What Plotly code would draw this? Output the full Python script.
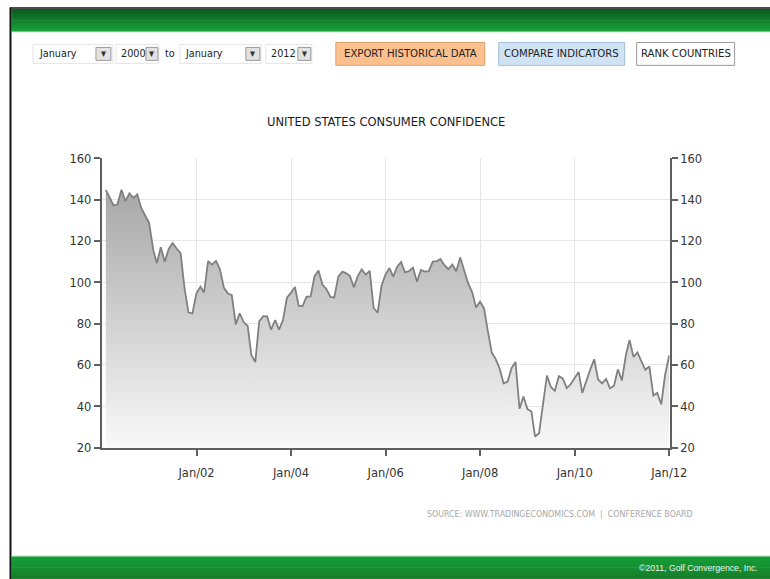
import plotly.graph_objects as go
import pandas as pd

# figure size in page pixels (larger than the window so every edge is covered)
WF, HF = 800, 620
# observed mapping from page pixels to picture pixels
S, OX, OY = 0.978, 0.0, 6.5

# ---------------- data ----------------
start_month = "2000-01-31"
confidence = [
    # 2000
    144.7, 140.8, 137.1, 137.7, 144.7, 139.2, 143.0, 140.8, 142.5, 135.8, 132.6, 128.6,
    # 2001
    115.7, 109.2, 116.9, 109.9, 116.1, 118.9, 116.3, 114.0, 97.0, 85.3, 84.9, 94.6,
    # 2002
    97.8, 95.0, 110.2, 108.5, 110.3, 106.3, 97.4, 94.5, 93.7, 79.6, 84.9, 80.7,
    # 2003
    78.8, 64.8, 61.4, 81.0, 83.6, 83.5, 77.0, 81.7, 77.0, 81.7, 92.5, 94.8,
    # 2004
    97.7, 88.5, 88.5, 93.0, 93.1, 102.8, 105.7, 98.7, 96.7, 92.9, 92.6, 102.7,
    # 2005
    105.1, 104.4, 103.0, 97.5, 103.1, 106.2, 103.6, 105.5, 87.5, 85.2, 98.3, 103.8,
    # 2006
    106.8, 102.7, 107.5, 109.8, 104.7, 105.4, 107.0, 100.2, 105.9, 105.1, 105.3, 110.0,
    # 2007
    110.2, 111.2, 108.2, 106.3, 108.5, 105.3, 111.9, 105.6, 99.5, 95.2, 87.8, 90.6,
    # 2008
    87.3, 76.4, 65.9, 62.8, 58.1, 51.0, 51.9, 58.5, 61.4, 38.8, 44.7, 38.6,
    # 2009
    37.4, 25.3, 26.9, 40.8, 54.8, 49.3, 47.4, 54.5, 53.4, 48.7, 50.6, 53.6,
    # 2010
    56.5, 46.4, 52.3, 57.7, 62.7, 52.9, 51.0, 53.2, 48.6, 49.9, 57.8, 52.5,
    # 2011
    64.8, 72.0, 63.8, 66.0, 61.7, 57.6, 59.2, 45.2, 46.4, 40.9, 55.2, 64.5,
]
dates = pd.date_range(start_month, periods=len(confidence), freq="ME")

x_tick_dates = ["2002-01-01", "2004-01-01", "2006-01-01", "2008-01-01", "2010-01-01", "2012-01-01"]
x_tick_labels = ["Jan/02", "Jan/04", "Jan/06", "Jan/08", "Jan/10", "Jan/12"]
y_ticks = [20, 40, 60, 80, 100, 120, 140, 160]

title_text = "UNITED STATES CONSUMER CONFIDENCE"
source_text = "SOURCE: WWW.TRADINGECONOMICS.COM  |  CONFERENCE BOARD"
footer_text = "©2011, Golf Convergence, Inc."

FONT = "Liberation Sans Narrow, DejaVu Sans Condensed, Arial Narrow, sans-serif"
FS = 1 / S  # font scale


def px(x):
    return ((x - OX) / S) / WF


def py(y):
    return 1 - ((y - OY) / S) / HF


# ---------------- figure ----------------
fig = go.Figure()

fig.add_trace(go.Scatter(
    x=dates, y=confidence, mode="lines",
    line=dict(color="#808080", width=1.8),
    fill="tozeroy",
    fillgradient=dict(type="vertical", start=20, stop=150,
                      colorscale=[[0, "#fbfbfb"], [1, "#a4a4a4"]]),
    hoverinfo="x+y", showlegend=False,
))
# carrier trace for the right-hand axis
fig.add_trace(go.Scatter(
    x=dates, y=confidence, mode="lines", yaxis="y2",
    line=dict(color="rgba(0,0,0,0)", width=0),
    hoverinfo="skip", showlegend=False,
))

plot_l, plot_r, plot_t, plot_b = 102, 670, 157, 447

axis_common = dict(
    showline=True, linecolor="#5f5f5f", linewidth=2,
    ticks="outside", ticklen=6, tickwidth=2, tickcolor="#5f5f5f",
    tickfont=dict(family=FONT, size=12.5 * FS, color="#333333"),
)

fig.update_layout(
    width=WF, height=HF,
    margin=dict(l=0, r=0, t=0, b=0),
    paper_bgcolor="white", plot_bgcolor="white",
    showlegend=False,
    xaxis=dict(
        domain=[px(plot_l), px(plot_r)],
        type="date",
        range=["2000-01-01", "2012-01-04"],
        tickvals=x_tick_dates, ticktext=x_tick_labels,
        showgrid=True, gridcolor="#e6e6e6", gridwidth=1,
        zeroline=False, ticklabelstandoff=6,
        **axis_common,
    ),
    yaxis=dict(
        domain=[py(plot_b), py(plot_t)],
        range=[20, 160], tickvals=y_ticks,
        showgrid=True, gridcolor="#e6e6e6", gridwidth=1,
        zeroline=False, side="left",
        **axis_common,
    ),
    yaxis2=dict(
        overlaying="y", side="right",
        range=[20, 160], tickvals=y_ticks,
        showgrid=False, zeroline=False,
        **axis_common,
    ),
)

shapes = []
annotations = []

# black frame (left + top)
shapes.append(dict(type="line", xref="paper", yref="paper",
                   x0=px(10.5), x1=px(10.5), y0=py(6), y1=py(640),
                   line=dict(color="#111111", width=2)))
shapes.append(dict(type="line", xref="paper", yref="paper",
                   x0=px(10), x1=px(800), y0=py(6.5), y1=py(6.5),
                   line=dict(color="#111111", width=1.5)))


def green_bar(y_top, y_bot, c_top, c_bot, steps=12):
    r1, g1, b1 = c_top
    r2, g2, b2 = c_bot
    h = (y_bot - y_top) / steps
    for i in range(steps):
        t = i / (steps - 1)
        col = "rgb(%d,%d,%d)" % (r1 + (r2 - r1) * t, g1 + (g2 - g1) * t, b1 + (b2 - b1) * t)
        shapes.append(dict(type="rect", xref="paper", yref="paper",
                           x0=px(11.5), x1=px(800),
                           y0=py(y_top + i * h), y1=py(y_top + (i + 1) * h + 0.6),
                           line=dict(width=0), fillcolor=col, layer="below"))


green_bar(7.5, 30, (14, 92, 30), (24, 160, 58))
shapes.append(dict(type="line", xref="paper", yref="paper",
                   x0=px(11.5), x1=px(800), y0=py(30.5), y1=py(30.5),
                   line=dict(color="#bfe6c6", width=1)))
green_bar(556, 600, (22, 156, 56), (24, 100, 28), steps=20)
shapes.append(dict(type="line", xref="paper", yref="paper",
                   x0=px(11.5), x1=px(800), y0=py(555.5), y1=py(555.5),
                   line=dict(color="#cfe9d3", width=1)))


def box(x0, x1, y0, y1, fill, border):
    shapes.append(dict(type="rect", xref="paper", yref="paper",
                       x0=px(x0), x1=px(x1), y0=py(y1), y1=py(y0),
                       fillcolor=fill, line=dict(color=border, width=1)))


def label(x, y, text, size=11, color="#222222", anchor="center"):
    annotations.append(dict(xref="paper", yref="paper", x=px(x), y=py(y),
                            text=text, showarrow=False, xanchor=anchor, yanchor="middle",
                            font=dict(family=FONT, size=size * FS, color=color)))


ctl_y0, ctl_y1, ctl_mid = 42, 63, 52.5
# dropdown fields
for (x0, x1, txt, tx, ax0, ax1) in [(33, 113, "January", 37, 96, 111),
                                    (116, 159, "2000", 119, 146, 158),
                                    (180, 261, "January", 183, 246, 260),
                                    (266, 312, "2012", 269, 298, 311)]:
    box(x0, x1, ctl_y0 + 1, ctl_y1 - 1, "white", "#e4e4e4")
    label(tx, ctl_mid, txt, size=10.5, anchor="left")
    box(ax0, ax1, ctl_y0 + 4, ctl_y1 - 4, "#e2e2e2", "#9a9a9a")
    label((ax0 + ax1) / 2, ctl_mid, "▼", size=7, color="#333333")
label(170.5, ctl_mid, "to", size=10.5)

# buttons
box(336, 485, 41, 64, "#fbc08e", "#d8a06c")
label(410.5, ctl_mid, "EXPORT HISTORICAL DATA", size=11)
box(499, 625, 41, 64, "#cfe3f4", "#9fbdd6")
label(562, ctl_mid, "COMPARE INDICATORS", size=11)
box(637, 735, 41, 64, "white", "#9a9a9a")
label(686, ctl_mid, "RANK COUNTRIES", size=11)

# title, source, footer
label(386, 120, title_text, size=12.5, color="#1a1a1a")
label(695, 514, source_text, size=8.6, color="#a8a8a8", anchor="right")
annotations.append(dict(xref="paper", yref="paper", x=px(760), y=py(568),
                        text=footer_text, showarrow=False, xanchor="right", yanchor="middle",
                        font=dict(family="Liberation Sans, Arial, sans-serif", size=8.5 * FS,
                                  color="#e8f5ea")))

fig.update_layout(shapes=shapes, annotations=annotations)

post = (
    "document.documentElement.style.margin='0';"
    "document.documentElement.style.overflow='hidden';"
    "document.body.style.margin='0';"
    "document.body.style.overflow='hidden';"
    "var gd=document.getElementById('{plot_id}');"
    "gd.style.position='fixed';gd.style.left='0px';gd.style.top='0px';"
)

fig.write_html("out.html", config={"displayModeBar": False}, post_script=post)
